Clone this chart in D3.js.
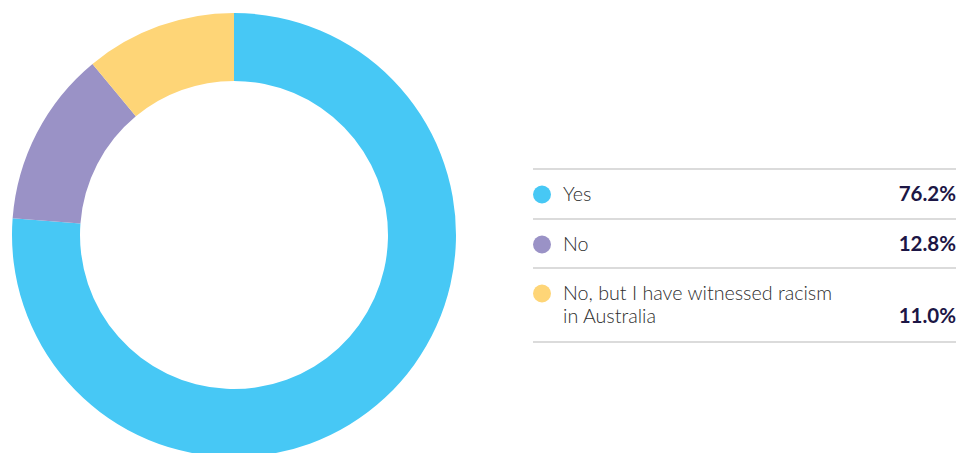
<!DOCTYPE html>
<html>
<head>
<meta charset="utf-8">
<script src="https://cdn.jsdelivr.net/npm/d3@7"></script>
<style>
  html, body { margin: 0; padding: 0; background: #ffffff; }
  svg { display: block; }
</style>
</head>
<body>
<svg id="chart" width="959" height="453"></svg>
<script>
// Survey responses
const categories = ["Yes", "No", "No, but I have witnessed racism in Australia"];
const labelLines = [["Yes"], ["No"], ["No, but I have witnessed racism", "in Australia"]];
const values = [76.2, 12.8, 11.0];
const colors = ["#47C8F5", "#9A92C6", "#FED577"];

const svg = d3.select("#chart");

// Donut
const cx = 234, cy = 235, outerR = 222, innerR = 154;
const pie = d3.pie().sort(null).value(d => d.value);
const arc = d3.arc().innerRadius(innerR).outerRadius(outerR);
const data = categories.map((c, i) => ({ name: c, value: values[i], color: colors[i] }));

svg.append("g")
  .attr("transform", `translate(${cx},${cy})`)
  .selectAll("path")
  .data(pie(data))
  .join("path")
  .attr("d", arc)
  .attr("fill", d => d.data.color);

// Legend table
const lx0 = 533, lx1 = 956;
const rowTops = [169, 219, 268];
const legend = svg.append("g");

// separator rules
const rules = [169, 219, 268, 342];
legend.selectAll("line")
  .data(rules)
  .join("line")
  .attr("x1", lx0).attr("x2", lx1)
  .attr("y1", d => d).attr("y2", d => d)
  .attr("stroke", "#cfcfcf")
  .attr("stroke-width", 1.5);

const rows = legend.selectAll("g.row")
  .data(data)
  .join("g")
  .attr("class", "row")
  .attr("transform", (d, i) => `translate(0,${rowTops[i]})`);

rows.append("circle")
  .attr("cx", 542)
  .attr("cy", 25.5)
  .attr("r", 9)
  .attr("fill", d => d.color);

rows.append("text")
  .attr("x", 563)
  .attr("y", 31.5)
  .attr("font-family", "Lato, sans-serif")
  .attr("font-weight", 300)
  .attr("font-size", 19.7)
  .attr("fill", "#2e2e2e")
  .selectAll("tspan")
  .data((d, i) => labelLines[i])
  .join("tspan")
  .attr("x", 563)
  .attr("dy", (d, j) => j === 0 ? 0 : 23.7)
  .text(d => d);

rows.append("text")
  .attr("x", lx1)
  .attr("y", (d, i) => labelLines[i].length > 1 ? 31.5 + 23.7 : 31.5)
  .attr("text-anchor", "end")
  .attr("font-family", "Lato, sans-serif")
  .attr("font-weight", 700)
  .attr("font-size", 20.5)
  .attr("fill", "#1C1645")
  .text(d => d3.format(".1f")(d.value) + "%");
</script>
</body>
</html>
